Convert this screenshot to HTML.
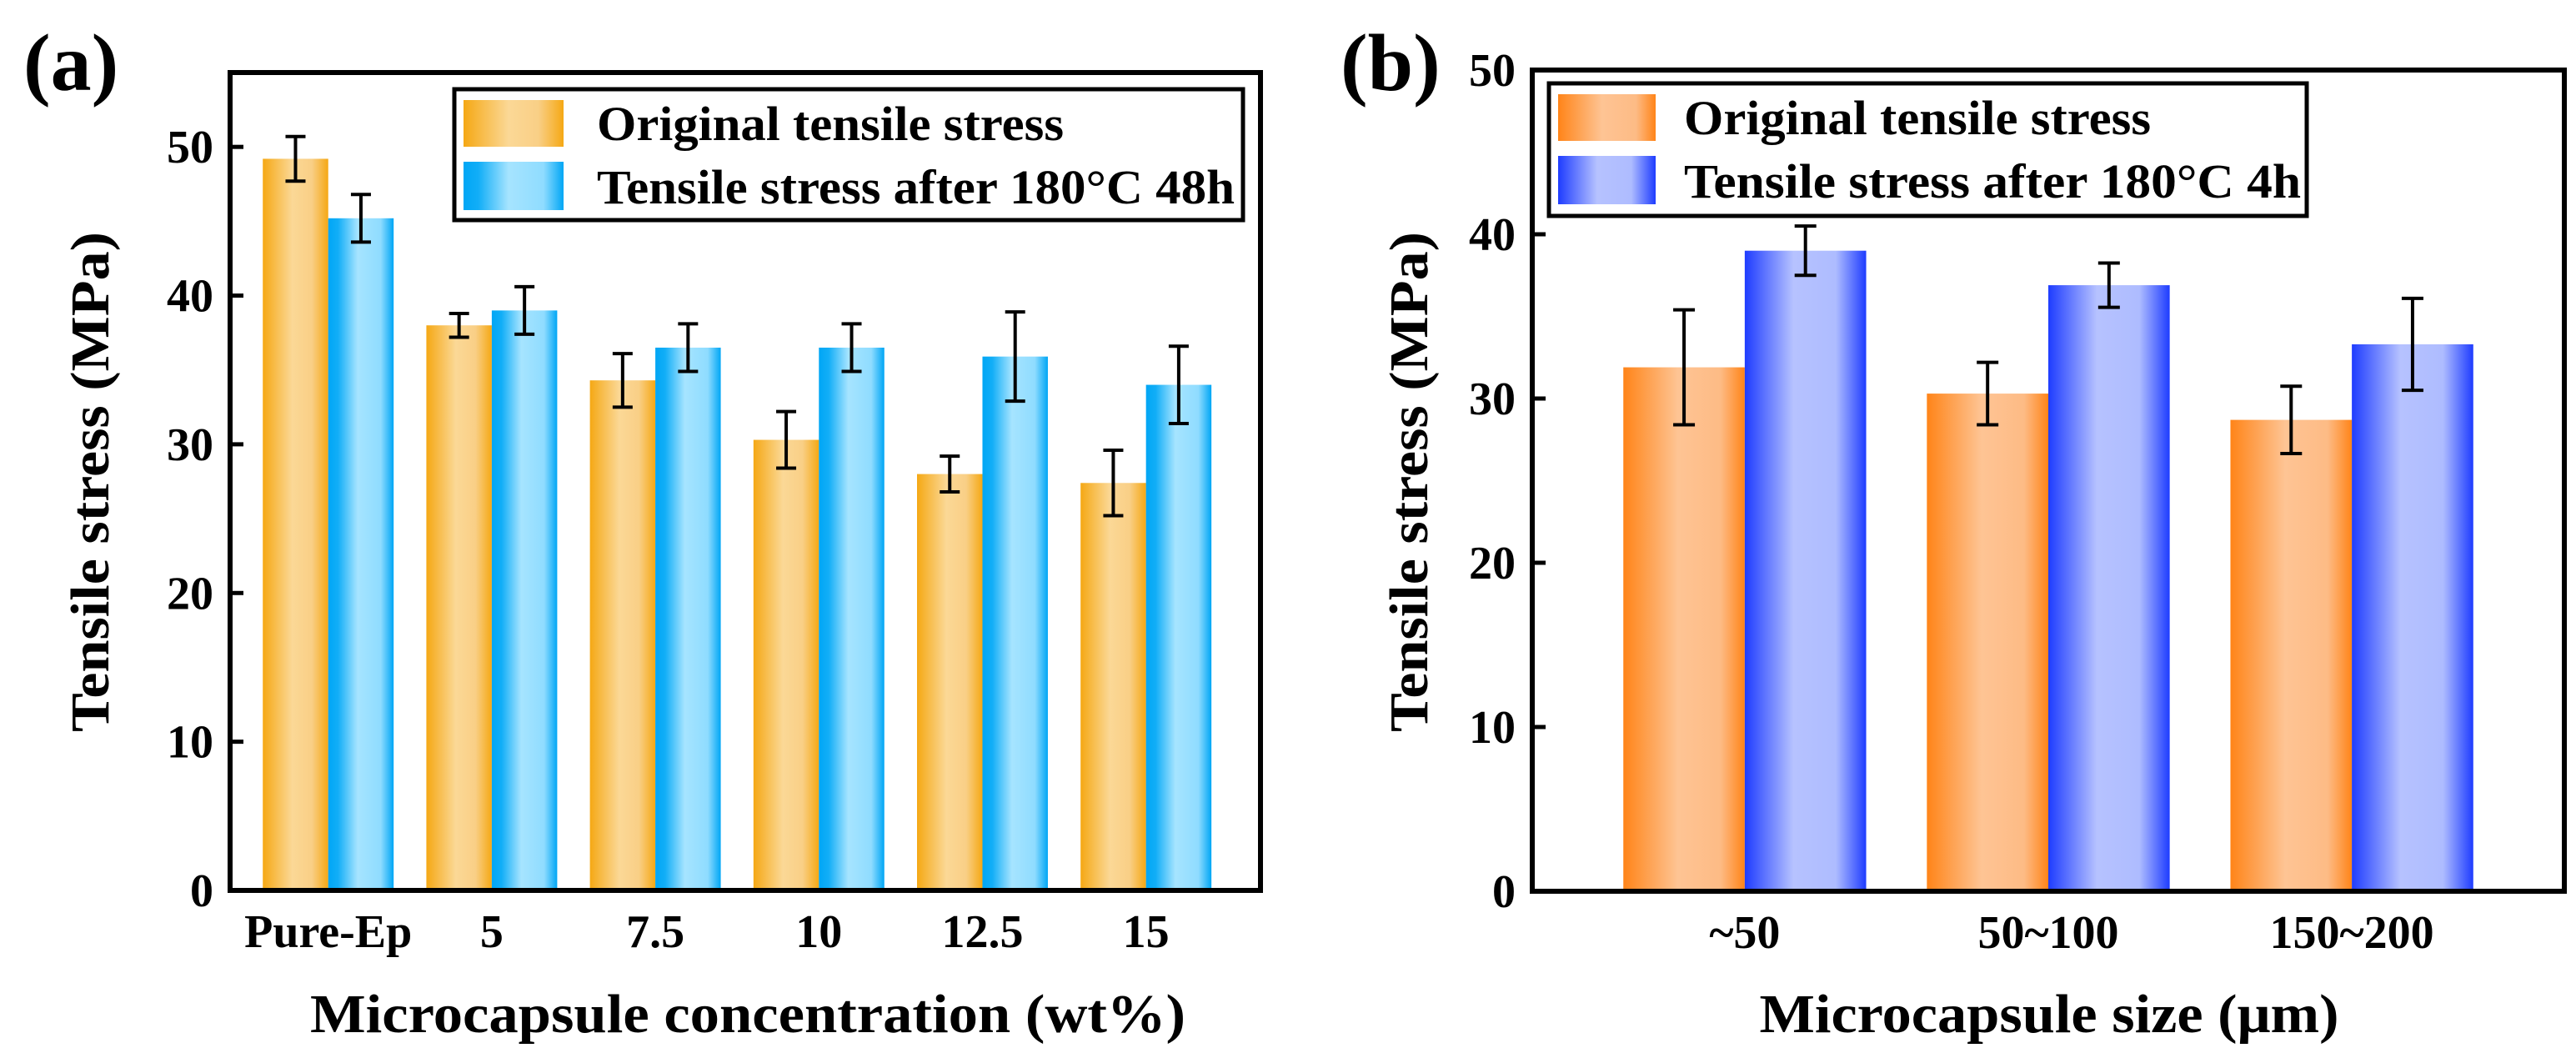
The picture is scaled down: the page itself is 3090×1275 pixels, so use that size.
<!DOCTYPE html>
<html><head><meta charset="utf-8">
<style>
html,body{margin:0;padding:0;background:#fff;}
svg{display:block;font-family:"Liberation Serif",serif;font-weight:bold;}
</style></head>
<body>
<svg id="fig" width="3090" height="1275" viewBox="0 0 3090 1275" xmlns="http://www.w3.org/2000/svg">
<defs>
<linearGradient id="gOrA" x1="0" x2="1" y1="0" y2="0">
<stop offset="0" stop-color="#f5a814"/><stop offset="0.45" stop-color="#fbd896"/><stop offset="0.75" stop-color="#f9cf86"/><stop offset="1" stop-color="#f5a814"/></linearGradient>
<linearGradient id="gBlA" x1="0" x2="1" y1="0" y2="0">
<stop offset="0" stop-color="#00a6f5"/><stop offset="0.15" stop-color="#12aef7"/><stop offset="0.45" stop-color="#a6e4ff"/><stop offset="0.8" stop-color="#8fdcff"/><stop offset="1" stop-color="#00a6f5"/></linearGradient>
<linearGradient id="gOrB" x1="0" x2="1" y1="0" y2="0">
<stop offset="0" stop-color="#ff8418"/><stop offset="0.45" stop-color="#fec494"/><stop offset="0.8" stop-color="#fdbb85"/><stop offset="1" stop-color="#ff8418"/></linearGradient>
<linearGradient id="gBlB" x1="0" x2="1" y1="0" y2="0">
<stop offset="0" stop-color="#1e3cff"/><stop offset="0.4" stop-color="#b6c2ff"/><stop offset="0.75" stop-color="#aebcff"/><stop offset="1" stop-color="#1e3cff"/></linearGradient>
</defs>
<g id="pa"></g>
<g id="pb"></g>
</svg>
<script>
// Panel (a) data
const catsA = ["Pure-Ep","5","7.5","10","12.5","15"];
const origA = [49.2,38.0,34.3,30.3,28.0,27.4];
const origErrA = [1.5,0.8,1.8,1.9,1.2,2.2];
const heatA = [45.2,39.0,36.5,36.5,35.9,34.0];
const heatErrA = [1.6,1.6,1.6,1.6,3.0,2.6];
const ticksA = [0,10,20,30,40,50];
// Panel (b) data
const catsB = ["~50","50~100","150~200"];
const origB = [31.9,30.3,28.7];
const origErrB = [3.5,1.9,2.05];
const heatB = [39.0,36.9,33.3];
const heatErrB = [1.5,1.35,2.8];
const ticksB = [0,10,20,30,40,50];

const NS="http://www.w3.org/2000/svg";
function mk(parent,tag,attrs,text){
  const e=document.createElementNS(NS,tag);
  for(const k in attrs) e.setAttribute(k,attrs[k]);
  if(text!==undefined) e.textContent=text;
  parent.appendChild(e); return e;
}

function drawPanel(g,cfg){
  const {L,R,T,B,xmin,xmax,ymax,cats,s1,e1,s2,e2,ticks,g1,g2,capW,leg,labels} = cfg;
  const xs=v=>L+(v-xmin)/(xmax-xmin)*(R-L);
  const ys=v=>B-v/ymax*(B-T);
  const bw=xs(0.4)-xs(0);
  // bars
  cats.forEach((c,i)=>{
    const cx=xs(i+1);
    [[s1,e1,g1,-1,'original'],[s2,e2,g2,0,'heated']].forEach(([s,e,gr,off,nm])=>{
      const x0=cx+off*bw;
      const r=mk(g,'rect',{x:x0,y:ys(s[i]),width:bw,height:ys(0)-ys(s[i]),fill:'url(#'+gr+')'});
      
      
      const ex=x0+bw/2;
      const eg=mk(g,'g',{stroke:'#000','stroke-width':4,fill:'none'});
      
      
      mk(eg,'line',{x1:ex,x2:ex,y1:ys(s[i]+e[i]),y2:ys(s[i]-e[i])});
      mk(eg,'line',{x1:ex-capW/2,x2:ex+capW/2,y1:ys(s[i]+e[i]),y2:ys(s[i]+e[i])});
      mk(eg,'line',{x1:ex-capW/2,x2:ex+capW/2,y1:ys(s[i]-e[i]),y2:ys(s[i]-e[i])});
    });
    const t=mk(g,'text',{x:cx,y:B+68,'text-anchor':'middle','font-size':56},c);
    
    
  });
  // frame
  const f=mk(g,'rect',{x:L,y:T,width:R-L,height:B-T,fill:'none',stroke:'#000','stroke-width':6});
  
  
  ticks.forEach(v=>{
    mk(g,'line',{x1:L,x2:L+16,y1:ys(v),y2:ys(v),stroke:'#000','stroke-width':5});
    const t=mk(g,'text',{x:L-20,y:ys(v)+19,'text-anchor':'end','font-size':56},String(v));
    
    
  });
  // legend
  const lg=mk(g,'g',{});
  
  
  mk(lg,'rect',{x:leg.x,y:leg.y,width:leg.w,height:leg.h,fill:'#fff',stroke:'#000','stroke-width':5});
  mk(lg,'rect',{x:leg.x+11,y:leg.y+13,width:leg.sw,height:56,fill:'url(#'+g1+')'});
  mk(lg,'rect',{x:leg.x+11,y:leg.y+87,width:leg.sw,height:58,fill:'url(#'+g2+')'});
  const l1=mk(lg,'text',{x:leg.tx,y:leg.y+61,'font-size':58,textLength:leg.t1w,lengthAdjust:'spacingAndGlyphs'},leg.t1);
  
  
  const l2=mk(lg,'text',{x:leg.tx,y:leg.y+137,'font-size':58,textLength:leg.t2w,lengthAdjust:'spacingAndGlyphs'},leg.t2);
  
  
  // titles
  const yt=mk(g,'text',{x:0,y:0,'text-anchor':'middle','font-size':66,transform:'translate('+labels.ytx+',578) rotate(-90)',textLength:600,lengthAdjust:'spacingAndGlyphs'},'Tensile stress (MPa)');
  
  
  const xt=mk(g,'text',{x:labels.xtx,y:1238,'text-anchor':'middle','font-size':66,textLength:labels.xtw,lengthAdjust:'spacingAndGlyphs'},labels.xt);
  
  
  const pl=mk(g,'text',{x:labels.px,y:108,'font-size':98},labels.p);
  
  
}

drawPanel(document.getElementById('pa'),{
  L:276,R:1512,T:87,B:1068,xmin:0.4,xmax:6.7,ymax:55,
  cats:catsA,s1:origA,e1:origErrA,s2:heatA,e2:heatErrA,ticks:ticksA,
  g1:'gOrA',g2:'gBlA',capW:24,
  leg:{x:545,y:107,w:946,h:157,sw:120,tx:716,t1:'Original tensile stress',t1w:560,t2:'Tensile stress after 180°C 48h',t2w:765},
  labels:{ytx:130,xtx:897,xtw:1050,xt:'Microcapsule concentration (wt%)',px:28,p:'(a)'}
});
drawPanel(document.getElementById('pb'),{
  L:1838,R:3076,T:84,B:1069,xmin:0.3,xmax:3.7,ymax:50,
  cats:catsB,s1:origB,e1:origErrB,s2:heatB,e2:heatErrB,ticks:ticksB,
  g1:'gOrB',g2:'gBlB',capW:26,
  leg:{x:1858,y:100,w:909,h:159,sw:117,tx:2020,t1:'Original tensile stress',t1w:560,t2:'Tensile stress after 180°C 4h',t2w:740},
  labels:{ytx:1712,xtx:2458,xtw:695,xt:'Microcapsule size (μm)',px:1608,p:'(b)'}
});
</script>
</body></html>
